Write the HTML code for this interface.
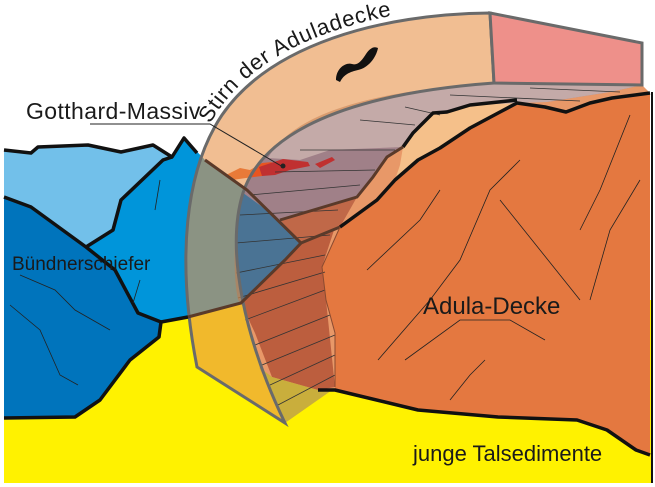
<!DOCTYPE html>
<html><head><meta charset="utf-8"><style>
html,body{margin:0;padding:0;background:#fff;}
svg{display:block;}
text{font-family:"Liberation Sans",sans-serif;fill:#1a1a1a;}
</style></head><body>
<svg width="655" height="487" viewBox="0 0 655 487" xmlns="http://www.w3.org/2000/svg">
<defs>
<path id="arcTxt" d="M210,124 C245,62 315,28 412,12"/>
</defs>
<!-- yellow base -->
<rect x="4" y="300" width="648" height="183" fill="#FFF200"/>
<!-- base fill behind arc region -->
<path d="M494,83 L642,85 L650,93 L612,98 L590,103 L566,112 L545,107 L517,103 L500,112 L470,128 L440,148 L418,160 L395,180 L377,200 L340,227 L322,267 L326,300 L335,333 L335,390 L318,392 L285,423 C245,340 225,250 243,193 C260,140 330,95 494,83 Z" fill="#E89868"/>
<!-- Adula orange big -->
<path d="M335,390 L418,410 L498,417 L577,420 L607,430 L636,450 L650,455 L650,93 L612,98 L590,103 L566,112 L545,107 L517,103 L500,112 L470,128 L440,148 L418,160 L395,180 L377,200 L340,227 L322,267 L326,300 L335,333 Z" fill="#E47840"/>
<!-- peach strip near Adula top -->
<path d="M403,147 L413,133 L433,113 L447,112 L470,105 L517,100 L500,112 L470,128 L440,148 L418,160 L395,180 L400,165 Z" fill="#F5C08A"/>
<!-- light blue -->
<path d="M4,150 L31,153 L38,147 L88,145 L121,152 L153,145 L172,157 L184,138 L197,153 L172,200 L163,160 L121,200 L113,230 L86,247 L31,207 L4,197 Z" fill="#72C0EA"/>
<!-- medium blue -->
<path d="M184,138 L205,160 L247,190 L301,243 L285,260 L241,303 L188,317 L161,322 L138,313 L115,270 L86,247 L113,230 L121,200 L163,160 L172,157 Z" fill="#0095DA"/>
<!-- dark blue -->
<path d="M4,197 L31,207 L86,247 L115,270 L138,313 L161,322 L159,337 L130,360 L100,400 L75,417 L4,418 Z" fill="#0074BC"/>
<!-- brown hatch region -->
<path d="M241,303 L285,260 L301,243 L335,227 L322,267 L326,300 L335,387 L318,390 L272,377 L255,333 Z" fill="#BC5E3E"/>
<path d="M280,220 L357,197 L340,227 L301,243 Z" fill="#C06848"/>
<!-- olive bottom of arc interior -->
<path d="M259,367 L272,377 L318,390 L335,388 L285,423 Z" fill="#C9AE3C"/>
<!-- mauve overlay -->
<path d="M494,83 L642,85 L610,92 L547,102 L517,100 L470,105 L447,112 L433,113 L413,133 L403,147 L387,157 L373,177 L357,197 L280,220 L243,193 C260,140 330,95 494,83 Z" fill="#A08088"/>
<path d="M494,83 L642,85 L610,92 L547,102 L470,105 L433,113 L413,133 L403,147 L330,150 L300,160 L268,158 C290,120 350,92 494,83 Z" fill="#C4AAA8"/>
<!-- steel blue in arc -->
<path d="M243,193 L280,220 L301,243 L285,260 L241,303 L238,300 C232,270 234,220 243,193 Z" fill="#4A7394"/>
<!-- red patches -->
<path d="M226,175 L240,168 L250,170 L262,163 L272,162 L262,176 L246,178 L232,180 Z" fill="#E85520"/>
<path d="M259,167 L283,159 L308,162 L310,166 L290,170 L275,175 L262,176 Z" fill="#C03030"/>
<path d="M315,164 L332,157 L335,160 L320,168 Z" fill="#C03030"/>
<!-- hatch lines -->
<g stroke="#333" stroke-width="0.8">
<line x1="530" y1="88" x2="620" y2="92"/><line x1="450" y1="95" x2="580" y2="101"/>
<line x1="405" y1="107" x2="440" y2="115"/><line x1="360" y1="120" x2="415" y2="125"/>
<line x1="300" y1="150" x2="395" y2="150"/><line x1="275" y1="172" x2="375" y2="170"/>
<line x1="250" y1="195" x2="360" y2="185"/><line x1="240" y1="215" x2="338" y2="210"/>
<line x1="236" y1="243" x2="330" y2="235"/><line x1="236" y1="273" x2="325" y2="255"/>
<line x1="238" y1="298" x2="325" y2="272"/><line x1="245" y1="320" x2="325" y2="290"/>
<line x1="255" y1="345" x2="330" y2="315"/><line x1="262" y1="365" x2="335" y2="335"/>
<line x1="270" y1="385" x2="335" y2="355"/><line x1="278" y1="405" x2="335" y2="375"/>
</g>
<!-- Stirn band -->
<path d="M490,13 C380,14 270,45 222,115 C185,170 176,260 197,367 L285,423 C245,340 225,250 243,193 C260,140 330,95 494,83 Z" fill="#E8924A" fill-opacity="0.6" stroke="#6a6a6a" stroke-width="3"/>
<!-- pink block -->
<path d="M490,13 L642,43 L642,85 L494,83 Z" fill="#EE908A" stroke="#6a6a6a" stroke-width="3"/>
<!-- thick outlines -->
<g fill="none" stroke="#111" stroke-width="3.5" stroke-linejoin="round">
<path d="M4,150 L31,153 L38,147 L88,145 L121,152 L153,145 L172,157 L184,138 L197,153"/>
<path d="M4,197 L31,207 L86,247 L115,270 L138,313 L161,322 L159,337 L130,360 L100,400 L75,417 L4,418"/>
<path d="M86,247 L113,230 L121,200 L163,160 L172,157"/>
<path d="M161,322 L188,317"/>
<path d="M318,390 L335,390 L418,410 L498,417 L577,420 L607,430 L636,450 L650,455"/>
<path d="M340,227 L377,200 L395,180 L418,160 L440,148 L470,128 L500,112 L517,103 L545,107 L566,112 L590,103 L612,98 L650,93"/>
<path d="M403,147 L413,133 L433,113 L447,112 L470,105 L517,100"/>
</g>
<g fill="none" stroke="#5a3a2a" stroke-width="3">
<path d="M188,317 L241,303 L285,260 L301,243 L247,190 L205,160"/>
<path d="M280,220 L357,197 L373,177 L387,157 L403,147"/>
<path d="M301,243 L340,227"/>
</g>
<path d="M340,227 L322,267 L326,300 L335,333 L335,387" fill="none" stroke="#8a4a30" stroke-width="1"/>
<line x1="652" y1="92" x2="652" y2="483" stroke="#111" stroke-width="2"/>
<!-- thin adula lines -->
<g fill="none" stroke="#222" stroke-width="0.8">
<path d="M367,270 L420,220 L440,190"/><path d="M378,360 L430,300 L460,260 L490,190 L520,160"/>
<path d="M500,200 L540,250 L580,300"/><path d="M590,300 L610,230 L640,180"/>
<path d="M580,230 L600,190 L630,115"/><path d="M405,360 L460,320 L510,320 L545,340"/>
<path d="M450,400 L470,375 L485,360"/>
<path d="M20,275 L55,290 L75,310 L110,330"/><path d="M10,305 L40,330 L60,375 L78,385"/>
<path d="M140,280 L133,303"/><path d="M155,210 L160,180"/>
</g>
<!-- leader -->
<polyline points="90,124 210,124 283,167" fill="none" stroke="#222" stroke-width="1"/>
<circle cx="283" cy="166" r="2.5" fill="#222"/>
<!-- tilde -->
<path d="M336,80 C336,68 346,62 352,64 C358,66 362,60 366,54 C370,48 374,46 378,48 C376,58 368,68 358,70 C350,72 344,74 340,82 Z" fill="#111"/>
<!-- labels -->
<text x="26" y="119" font-size="23" letter-spacing="0.4">Gotthard-Massiv</text>
<text font-size="22" letter-spacing="0.8"><textPath href="#arcTxt">Stirn der Aduladecke</textPath></text>
<text x="12" y="270" font-size="19">Bündnerschiefer</text>
<text x="423" y="314" font-size="24">Adula-Decke</text>
<text x="413" y="461" font-size="22">junge Talsedimente</text>
</svg>
</body></html>
